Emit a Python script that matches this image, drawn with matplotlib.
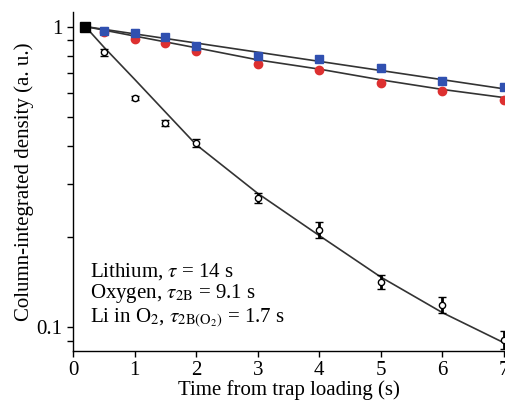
import matplotlib.pyplot as plt
import numpy as np
from matplotlib.ticker import LogLocator, NullFormatter, FixedLocator, FixedFormatter

# measured points
t_pts = [0.2, 0.5, 1, 1.5, 2, 3, 4, 5, 6, 7]
li_vals = [1.0, 0.97, 0.955, 0.92, 0.86, 0.80, 0.78, 0.73, 0.66, 0.63]
li_err = [0.015, 0.018, 0.018, 0.018, 0.017, 0.015, 0.015, 0.015, 0.014, 0.013]
ox_vals = [1.0, 0.96, 0.91, 0.88, 0.83, 0.75, 0.715, 0.65, 0.61, 0.57]
lio_vals = [1.0, 0.82, 0.58, 0.477, 0.41, 0.27, 0.211, 0.142, 0.119, 0.091]
lio_err = [0.012, 0.019, 0.009, 0.011, 0.0125, 0.010, 0.013, 0.0076, 0.0073, 0.0065]

# fit curves
li_fit_t = [0.2, 7.02]
li_fit_v = [1.0, 0.62]
ox_fit_t = [0.2, 1, 2, 3, 4, 5, 6, 7.02]
ox_fit_v = [1.0, 0.93, 0.85, 0.775, 0.722, 0.665, 0.618, 0.58]
lio_fit_t = [0.2, 0.5, 1, 1.5, 2, 3, 4, 5, 6, 7.02]
lio_fit_v = [1.0, 0.855, 0.668, 0.52, 0.405, 0.279, 0.202, 0.147, 0.112, 0.0885]

plt.rcParams['font.family'] = ['Liberation Serif', 'DejaVu Serif']
plt.rcParams['mathtext.fontset'] = 'stix'

fig = plt.figure(figsize=(5.05, 4.03), dpi=100)
ax = fig.add_axes([0.1446, 0.129, 0.8534, 0.841])

line_col = '#333333'
ax.plot(li_fit_t, li_fit_v, color=line_col, lw=1.2, zorder=2)
ax.plot(ox_fit_t, ox_fit_v, color=line_col, lw=1.2, zorder=2)
ax.plot(lio_fit_t, lio_fit_v, color=line_col, lw=1.2, zorder=2)

ax.plot(t_pts, ox_vals, 'o', color='#dd3030', ms=6, mec='#dd3030', zorder=3,
        clip_on=False)
ax.errorbar(t_pts, li_vals, yerr=li_err, fmt='s', color='#3050b0', ms=6,
            ecolor='#3050b0', elinewidth=1.5, capsize=3, capthick=1.5, zorder=4,
            clip_on=False)
ax.errorbar(t_pts[1:], lio_vals[1:], yerr=lio_err[1:], fmt='o', color='black',
            mfc='white', ms=4.5, mew=1.0, ecolor='black', elinewidth=2,
            capsize=3, capthick=2, zorder=5, clip_on=False)
ax.plot(t_pts[0], lio_vals[0], 's', color='black', ms=7, zorder=6, clip_on=False)

ax.set_yscale('log')
ax.set_xlim(0, 7.0)
ax.set_ylim(0.0835, 1.117)

ax.yaxis.set_major_locator(FixedLocator([0.1, 1]))
ax.yaxis.set_major_formatter(FixedFormatter(['0.1', '1']))
ax.yaxis.set_minor_locator(LogLocator(base=10, subs=np.arange(2, 10)))
ax.yaxis.set_minor_formatter(NullFormatter())
ax.set_xticks(range(0, 8))

for s in ['top', 'right']:
    ax.spines[s].set_visible(False)
for s in ['left', 'bottom']:
    ax.spines[s].set_linewidth(1.0)

ax.tick_params(axis='both', which='both', direction='out', length=4.5,
               width=1.0, labelsize=15, pad=3)

ax.set_xlabel('Time from trap loading (s)', fontsize=15, labelpad=0)
ax.set_ylabel('Column-integrated density (a. u.)', fontsize=15, labelpad=2)

ax.text(0.04, 0.221, r'Lithium, $\tau$ = 14 s', transform=ax.transAxes,
        fontsize=15)
ax.text(0.04, 0.156, r'Oxygen, $\tau_{\mathrm{2B}}$ = 9.1 s',
        transform=ax.transAxes, fontsize=15)
ax.text(0.04, 0.083, r'Li in O$_2$, $\tau_{\mathrm{2B(O_2)}}$ = 1.7 s',
        transform=ax.transAxes, fontsize=15)

plt.savefig('out.png', dpi=100)
